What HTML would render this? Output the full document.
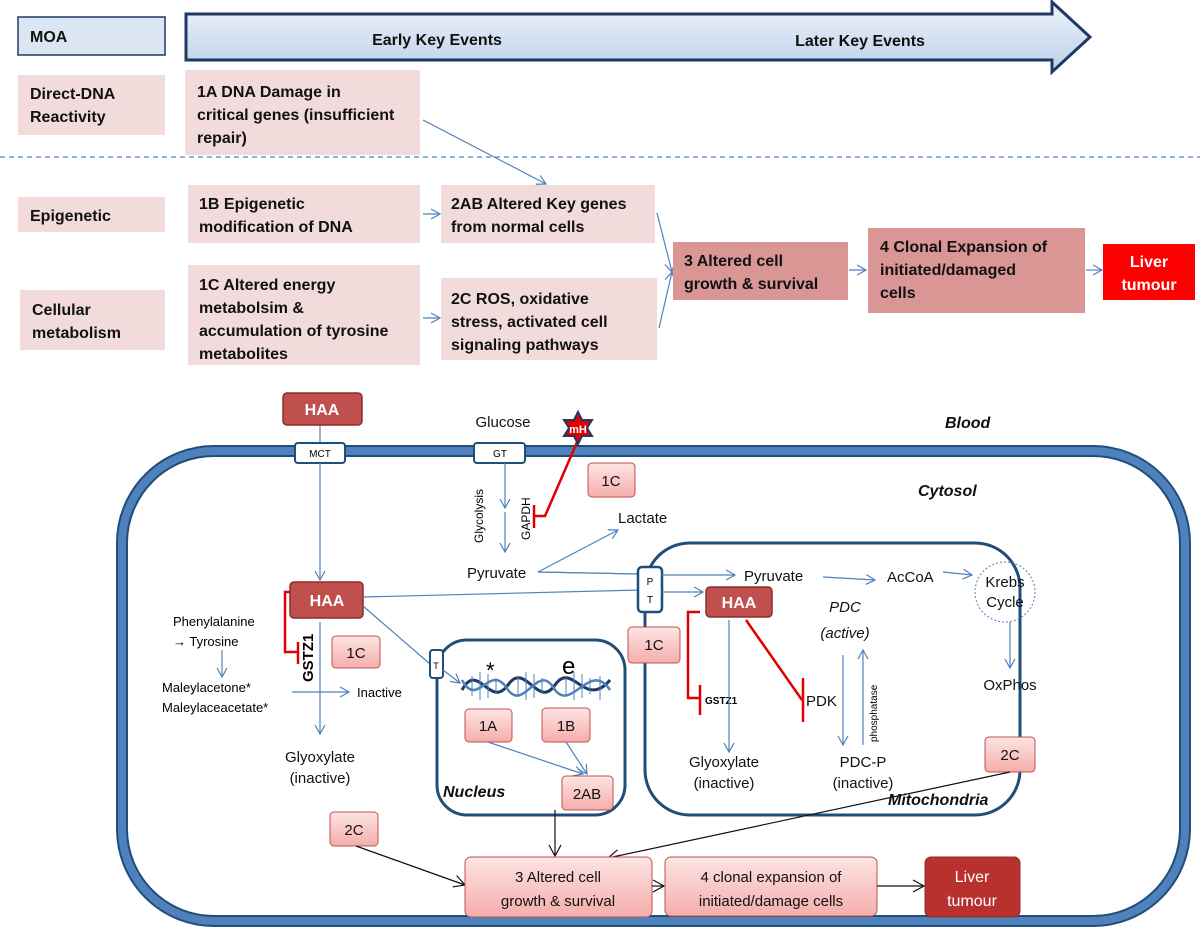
<!DOCTYPE html>
<html><head><meta charset="utf-8"><style>
html,body{margin:0;padding:0;background:#fff;}
svg{display:block;font-family:"Liberation Sans",sans-serif;}
.tb{font-weight:bold;font-size:16px;fill:#111;}
.t{font-size:15px;fill:#111;}
.bl{stroke:#4f81bd;stroke-width:1.2;fill:none;}
.bk{stroke:#111;stroke-width:1.2;fill:none;}
.rd{stroke:#e00000;stroke-width:2.5;fill:none;}
.pn{fill:url(#pg);stroke:#c0504d;stroke-width:1;}
</style></head><body>
<svg width="1200" height="932" viewBox="0 0 1200 932" xmlns="http://www.w3.org/2000/svg">
<defs>
<linearGradient id="pg" x1="0" y1="0" x2="0" y2="1"><stop offset="0" stop-color="#fde4e3"/><stop offset="1" stop-color="#f4aeac"/></linearGradient>
<linearGradient id="ag" x1="0" y1="0" x2="0" y2="1"><stop offset="0" stop-color="#eef3fa"/><stop offset="1" stop-color="#bcd0ea"/></linearGradient>
<marker id="ab" markerWidth="12" markerHeight="12" refX="10" refY="6" orient="auto" markerUnits="userSpaceOnUse"><path d="M1,1 L10,6 L1,11" fill="none" stroke="#4f81bd" stroke-width="1.2"/></marker>
<marker id="ak" markerWidth="14" markerHeight="14" refX="12" refY="7" orient="auto" markerUnits="userSpaceOnUse"><path d="M1,1 L12,7 L1,13" fill="none" stroke="#111" stroke-width="1.2"/></marker>
</defs>

<!-- TOP SECTION -->
<rect x="18" y="17" width="147" height="38" fill="#dce6f2" stroke="#1f3864" stroke-width="1.5"/>
<text x="30" y="42" class="tb">MOA</text>
<path d="M186,14 L1052,14 L1052,2 L1090,37 L1052,72 L1052,60 L186,60 Z" fill="url(#ag)" stroke="#1f3864" stroke-width="3"/>
<text x="437" y="45" class="tb" text-anchor="middle">Early Key Events</text>
<text x="860" y="46" class="tb" text-anchor="middle">Later Key Events</text>

<rect x="18" y="75" width="147" height="60" fill="#f2dcdb"/>
<text x="30" y="99" class="tb">Direct-DNA</text><text x="30" y="122" class="tb">Reactivity</text>
<rect x="185" y="70" width="235" height="85" fill="#f2dcdb"/>
<text x="197" y="97" class="tb">1A DNA Damage in</text><text x="197" y="120" class="tb">critical genes (insufficient</text><text x="197" y="143" class="tb">repair)</text>
<line x1="0" y1="157" x2="1200" y2="157" stroke="#4f81bd" stroke-width="1.3" stroke-dasharray="5,4"/>
<line x1="423" y1="120" x2="546" y2="184" class="bl" marker-end="url(#ab)"/>

<rect x="18" y="197" width="147" height="35" fill="#f2dcdb"/>
<text x="30" y="221" class="tb">Epigenetic</text>
<rect x="188" y="185" width="232" height="58" fill="#f2dcdb"/>
<text x="199" y="209" class="tb">1B Epigenetic</text><text x="199" y="232" class="tb">modification of DNA</text>
<line x1="423" y1="214" x2="440" y2="214" class="bl" marker-end="url(#ab)"/>
<rect x="441" y="185" width="214" height="58" fill="#f2dcdb"/>
<text x="451" y="209" class="tb">2AB Altered Key genes</text><text x="451" y="232" class="tb">from normal cells</text>

<rect x="20" y="290" width="145" height="60" fill="#f2dcdb"/>
<text x="32" y="315" class="tb">Cellular</text><text x="32" y="338" class="tb">metabolism</text>
<rect x="188" y="265" width="232" height="100" fill="#f2dcdb"/>
<text x="199" y="290" class="tb">1C Altered energy</text><text x="199" y="313" class="tb">metabolsim &amp;</text><text x="199" y="336" class="tb">accumulation of tyrosine</text><text x="199" y="359" class="tb">metabolites</text>
<line x1="423" y1="318" x2="440" y2="318" class="bl" marker-end="url(#ab)"/>
<rect x="441" y="278" width="216" height="82" fill="#f2dcdb"/>
<text x="451" y="304" class="tb">2C ROS, oxidative</text><text x="451" y="327" class="tb">stress, activated cell</text><text x="451" y="350" class="tb">signaling pathways</text>
<line x1="657" y1="213" x2="672" y2="272" class="bl" marker-end="url(#ab)"/>
<line x1="659" y1="328" x2="672" y2="272" class="bl" marker-end="url(#ab)"/>

<rect x="673" y="242" width="175" height="58" fill="#d99694"/>
<text x="684" y="266" class="tb">3 Altered cell</text><text x="684" y="289" class="tb">growth &amp; survival</text>
<line x1="849" y1="270" x2="866" y2="270" class="bl" marker-end="url(#ab)"/>
<rect x="868" y="228" width="217" height="85" fill="#d99694"/>
<text x="880" y="252" class="tb">4 Clonal Expansion of</text><text x="880" y="275" class="tb">initiated/damaged</text><text x="880" y="298" class="tb">cells</text>
<line x1="1086" y1="270" x2="1102" y2="270" class="bl" marker-end="url(#ab)"/>
<rect x="1103" y="244" width="92" height="56" fill="#ff0000"/>
<text x="1149" y="267" class="tb" style="fill:#fff" text-anchor="middle">Liver</text><text x="1149" y="290" class="tb" style="fill:#fff" text-anchor="middle">tumour</text>

<!-- CELL -->
<rect x="122" y="451" width="1063" height="470" rx="92" fill="none" stroke="#1f4e79" stroke-width="12"/>
<rect x="122" y="451" width="1063" height="470" rx="92" fill="none" stroke="#4f81bd" stroke-width="8"/>
<text x="945" y="428" class="tb" font-style="italic">Blood</text>
<text x="918" y="496" class="tb" font-style="italic">Cytosol</text>

<!-- HAA top -->
<line x1="320" y1="425" x2="320" y2="443" class="bl"/>
<rect x="283" y="393" width="79" height="32" rx="4" fill="#c0504d" stroke="#8c2f2c" stroke-width="1.5"/>
<text x="322" y="415" class="tb" style="fill:#fff" text-anchor="middle">HAA</text>
<rect x="295" y="443" width="50" height="20" rx="3" fill="#fff" stroke="#1f4e79" stroke-width="2"/>
<text x="320" y="457" font-size="10" text-anchor="middle">MCT</text>
<line x1="320" y1="463" x2="320" y2="580" class="bl" marker-end="url(#ab)"/>

<!-- Glucose -->
<text x="503" y="427" class="t" text-anchor="middle">Glucose</text>
<rect x="474" y="443" width="51" height="20" rx="3" fill="#fff" stroke="#1f4e79" stroke-width="2"/>
<text x="500" y="457" font-size="10" text-anchor="middle">GT</text>
<line x1="505" y1="463" x2="505" y2="508" class="bl" marker-end="url(#ab)"/>
<line x1="505" y1="512" x2="505" y2="552" class="bl" marker-end="url(#ab)"/>
<text transform="translate(483,543) rotate(-90)" font-size="12">Glycolysis</text>
<text transform="translate(530,540) rotate(-90)" font-size="12">GAPDH</text>
<polyline points="578,440 545,516 534,516" class="rd"/>
<line x1="534" y1="505" x2="534" y2="528" class="rd"/>
<polygon points="578,412 582,420 592,420 587,428 592,436 582,436 578,444 574,436 564,436 569,428 564,420 574,420" fill="#e00000" stroke="#1f3864" stroke-width="2"/>
<text x="578" y="433" font-size="11" font-weight="bold" fill="#fff" text-anchor="middle">mH</text>
<rect x="588" y="463" width="47" height="34" rx="4" class="pn"/>
<text x="611" y="486" class="t" text-anchor="middle">1C</text>

<text x="618" y="523" class="t">Lactate</text>
<text x="467" y="578" class="t">Pyruvate</text>
<line x1="538" y1="572" x2="618" y2="530" class="bl" marker-end="url(#ab)"/>
<line x1="538" y1="572" x2="640" y2="574" class="bl"/>

<!-- HAA mid -->
<rect x="290" y="582" width="73" height="36" rx="4" fill="#c0504d" stroke="#8c2f2c" stroke-width="1.5"/>
<text x="327" y="606" class="tb" style="fill:#fff" text-anchor="middle">HAA</text>
<line x1="363" y1="597" x2="640" y2="590" class="bl"/>
<line x1="363" y1="606" x2="430" y2="664" class="bl"/>
<polyline points="290,592 285,592 285,652 298,652" class="rd"/>
<line x1="298" y1="642" x2="298" y2="664" class="rd"/>
<text transform="translate(313,682) rotate(-90)" font-size="15" font-weight="bold">GSTZ1</text>
<line x1="320" y1="622" x2="320" y2="734" class="bl" marker-end="url(#ab)"/>
<rect x="332" y="636" width="48" height="32" rx="4" class="pn"/>
<text x="356" y="658" class="t" text-anchor="middle">1C</text>
<text x="173" y="626" font-size="13">Phenylalanine</text>
<text x="173" y="646" font-size="13">→ Tyrosine</text>
<line x1="222" y1="650" x2="222" y2="677" class="bl" marker-end="url(#ab)"/>
<text x="162" y="692" font-size="13">Maleylacetone*</text>
<text x="162" y="712" font-size="13">Maleylaceacetate*</text>
<line x1="292" y1="692" x2="349" y2="692" class="bl" marker-end="url(#ab)"/>
<text x="357" y="697" font-size="13">Inactive</text>
<text x="320" y="762" class="t" text-anchor="middle">Glyoxylate</text>
<text x="320" y="783" class="t" text-anchor="middle">(inactive)</text>

<!-- Nucleus -->
<rect x="437" y="640" width="188" height="175" rx="30" fill="#fff" stroke="#1f4e79" stroke-width="3"/>
<rect x="430" y="650" width="13" height="28" rx="3" fill="#fff" stroke="#1f4e79" stroke-width="2"/>
<text x="436" y="669" font-size="9" text-anchor="middle">T</text>
<line x1="443" y1="670" x2="460" y2="683" class="bl" marker-end="url(#ab)"/>
<path d="M462,690 C478,660 490,710 508,685 C525,660 538,710 555,685 C572,660 585,710 610,680" fill="none" stroke="#1f3864" stroke-width="3"/>
<path d="M462,680 C478,710 490,660 508,690 C525,712 538,660 555,690 C572,712 590,660 610,690" fill="none" stroke="#4f81bd" stroke-width="2.5"/>
<g stroke="#4f81bd" stroke-width="1">
<line x1="472" y1="676" x2="472" y2="696"/><line x1="480" y1="672" x2="480" y2="700"/><line x1="488" y1="674" x2="488" y2="698"/><line x1="496" y1="678" x2="496" y2="694"/>
<line x1="518" y1="676" x2="518" y2="696"/><line x1="526" y1="672" x2="526" y2="700"/><line x1="534" y1="674" x2="534" y2="698"/><line x1="542" y1="678" x2="542" y2="694"/>
<line x1="566" y1="676" x2="566" y2="696"/><line x1="574" y1="672" x2="574" y2="700"/><line x1="582" y1="674" x2="582" y2="698"/><line x1="590" y1="678" x2="590" y2="694"/><line x1="600" y1="676" x2="600" y2="700"/>
</g>
<text x="486" y="678" font-size="22">*</text>
<text x="562" y="674" font-size="24">e</text>
<rect x="465" y="709" width="47" height="33" rx="4" class="pn"/>
<text x="488" y="731" class="t" text-anchor="middle">1A</text>
<rect x="542" y="708" width="48" height="34" rx="4" class="pn"/>
<text x="566" y="731" class="t" text-anchor="middle">1B</text>
<line x1="488" y1="742" x2="583" y2="774" class="bl" marker-end="url(#ab)"/>
<line x1="566" y1="742" x2="587" y2="774" class="bl" marker-end="url(#ab)"/>
<rect x="562" y="776" width="51" height="34" rx="4" class="pn"/>
<text x="587" y="799" class="t" text-anchor="middle">2AB</text>
<text x="443" y="797" class="tb" font-style="italic">Nucleus</text>

<!-- Mitochondria -->
<rect x="645" y="543" width="375" height="272" rx="45" fill="#fff" stroke="#1f4e79" stroke-width="3"/>
<line x1="538" y1="572" x2="640" y2="574" class="bl"/>
<rect x="638" y="567" width="24" height="45" rx="4" fill="#fff" stroke="#1f4e79" stroke-width="2.5"/>
<text x="650" y="585" font-size="10" text-anchor="middle">P</text><text x="650" y="603" font-size="10" text-anchor="middle">T</text>
<line x1="662" y1="575" x2="735" y2="575" class="bl" marker-end="url(#ab)"/>
<line x1="662" y1="592" x2="703" y2="592" class="bl" marker-end="url(#ab)"/>
<rect x="628" y="627" width="52" height="36" rx="4" class="pn"/>
<text x="654" y="650" class="t" text-anchor="middle">1C</text>
<text x="744" y="581" class="t">Pyruvate</text>
<rect x="706" y="587" width="66" height="30" rx="4" fill="#c0504d" stroke="#8c2f2c" stroke-width="1.5"/>
<text x="739" y="608" class="tb" style="fill:#fff" text-anchor="middle">HAA</text>
<polyline points="700,612 688,612 688,698 700,698" class="rd"/>
<line x1="700" y1="685" x2="700" y2="715" class="rd"/>
<text x="705" y="704" font-size="10" font-weight="bold">GSTZ1</text>
<line x1="729" y1="620" x2="729" y2="752" class="bl" marker-end="url(#ab)"/>
<text x="724" y="767" class="t" text-anchor="middle">Glyoxylate</text>
<text x="724" y="788" class="t" text-anchor="middle">(inactive)</text>
<line x1="746" y1="620" x2="802" y2="700" class="rd"/>
<line x1="803" y1="678" x2="803" y2="722" class="rd"/>
<text x="806" y="706" class="t">PDK</text>
<text x="845" y="612" class="t" font-style="italic" text-anchor="middle">PDC</text>
<text x="845" y="638" class="t" font-style="italic" text-anchor="middle">(active)</text>
<line x1="823" y1="577" x2="875" y2="580" class="bl" marker-end="url(#ab)"/>
<text x="887" y="582" class="t">AcCoA</text>
<line x1="943" y1="572" x2="972" y2="575" class="bl" marker-end="url(#ab)"/>
<circle cx="1005" cy="592" r="30" fill="none" stroke="#4f81bd" stroke-width="1" stroke-dasharray="2,2"/>
<text x="1005" y="587" class="t" text-anchor="middle">Krebs</text>
<text x="1005" y="607" class="t" text-anchor="middle">Cycle</text>
<line x1="1010" y1="622" x2="1010" y2="668" class="bl" marker-end="url(#ab)"/>
<text x="1010" y="690" class="t" text-anchor="middle">OxPhos</text>
<line x1="843" y1="655" x2="843" y2="745" class="bl" marker-end="url(#ab)"/>
<line x1="863" y1="745" x2="863" y2="650" class="bl" marker-end="url(#ab)"/>
<text transform="translate(877,742) rotate(-90)" font-size="10">phosphatase</text>
<text x="863" y="767" class="t" text-anchor="middle">PDC-P</text>
<text x="863" y="788" class="t" text-anchor="middle">(inactive)</text>
<rect x="985" y="737" width="50" height="35" rx="4" class="pn"/>
<text x="1010" y="760" class="t" text-anchor="middle">2C</text>
<text x="888" y="805" class="tb" font-style="italic" font-size="15">Mitochondria</text>

<!-- bottom -->
<rect x="330" y="812" width="48" height="34" rx="4" class="pn"/>
<text x="354" y="835" class="t" text-anchor="middle">2C</text>
<line x1="356" y1="846" x2="465" y2="885" class="bk" marker-end="url(#ak)"/>
<line x1="555" y1="810" x2="555" y2="856" class="bk" marker-end="url(#ak)"/>
<line x1="1010" y1="772" x2="608" y2="858" class="bk" marker-end="url(#ak)"/>
<rect x="465" y="857" width="187" height="60" rx="6" class="pn"/>
<text x="558" y="882" class="t" font-size="16" text-anchor="middle">3  Altered cell</text>
<text x="558" y="906" class="t" font-size="16" text-anchor="middle">growth &amp; survival</text>
<line x1="652" y1="886" x2="664" y2="886" class="bk" marker-end="url(#ak)"/>
<rect x="665" y="857" width="212" height="59" rx="6" class="pn"/>
<text x="771" y="882" class="t" font-size="16" text-anchor="middle">4 clonal expansion of</text>
<text x="771" y="906" class="t" font-size="16" text-anchor="middle">initiated/damage cells</text>
<line x1="877" y1="886" x2="924" y2="886" class="bk" marker-end="url(#ak)"/>
<rect x="925" y="857" width="95" height="60" rx="6" fill="#b8312f" stroke="#8c2f2c"/>
<text x="972" y="882" font-size="16" fill="#fff" text-anchor="middle">Liver</text>
<text x="972" y="906" font-size="16" fill="#fff" text-anchor="middle">tumour</text>
</svg>
</body></html>
